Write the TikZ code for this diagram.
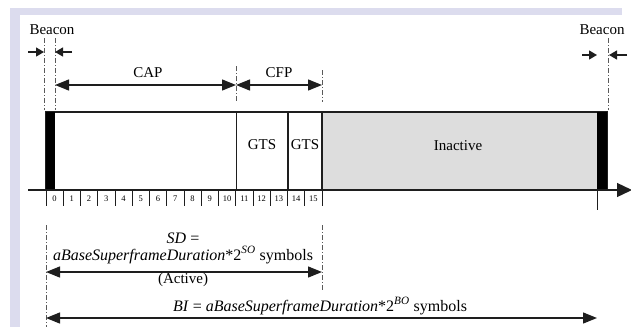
\documentclass[tikz,border=0pt]{standalone}
\usepackage{fontspec}
\setmainfont{Liberation Serif}
\usetikzlibrary{arrows.meta,positioning}
\definecolor{framelav}{HTML}{DCDCEE}
\definecolor{inactgray}{HTML}{DDDDDD}
\definecolor{inkline}{HTML}{1E1E1E}

\begin{document}
\begin{tikzpicture}[x=1pt,y=-1pt,
  every node/.style={font=\fontsize{15}{17}\selectfont, inner sep=0pt},
  guide/.style={draw=gray!70!black, line width=0.7pt, dash pattern=on 5pt off 2pt on 1pt off 2pt},
  span/.style={line width=1.3pt, draw=inkline, {Triangle[length=14pt,width=11pt]}-{Triangle[length=14pt,width=11pt]}},
  nudge/.style={line width=1.3pt, draw=inkline, -{Triangle[length=8pt,width=9pt]}},
  slot/.style={font=\fontsize{8.5}{9}\selectfont},
  formula/.style={font=\fontsize{16}{18}\selectfont},
]
  \useasboundingbox (0,0) rectangle (631,327);
  % slide frame
  \fill[framelav] (10,8) rectangle (622,15);
  \fill[framelav] (10,8) rectangle (20,327);

  % superframe
  \fill[inactgray] (322,112) rectangle (597,190);
  \draw[inkline, line width=1.2pt] (46,112) rectangle (607,190);
  \fill[black] (46,112) rectangle (55,190);
  \fill[black] (597,112) rectangle (607,190);
  \draw[inkline, line width=0.8pt] (236,112) -- (236,190);
  \draw[inkline, line width=1.3pt] (288,112) -- (288,190);
  \draw[inkline, line width=1.3pt] (322,112) -- (322,190);
  \node (gts1) at (262,145) {GTS};
  \node (gts2) at (305,145) {GTS};
  \node (inact) at (458,146) {Inactive};

  % time axis
  \coordinate (ax0) at (28,190);
  \coordinate (ax1) at (632,190);
  \draw[inkline, line width=1.3pt, -{Triangle[length=15pt,width=14pt]}] (ax0) -- (ax1);
  \foreach \i in {0,...,16}
    \draw[inkline, line width=0.8pt] (46+\i*17.25,190) -- ++(0,16);
  \foreach \i in {0,...,15}
    \node[slot] (n\i) at (46+\i*17.25+8.6,199) {\i};
  \draw[inkline, line width=0.8pt] (597,190) -- (597,210);

  % beacon marks
  \node (bcnL) at (52,30) {Beacon};
  \node (bcnR) at (602,30) {Beacon};
  \coordinate (gA) at (44,38);   \coordinate (gA') at (44,110);
  \coordinate (gB) at (55,38);   \coordinate (gB') at (55,110);
  \coordinate (gR) at (608,38);  \coordinate (gR') at (608,110);
  \draw[guide] (gA) -- (gA');
  \draw[guide] (gB) -- (gB');
  \draw[guide] (gR) -- (gR');
  \coordinate (pA0) at (28,52);  \coordinate (pA1) at (44,52);
  \coordinate (pB0) at (72,52);  \coordinate (pB1) at (55,52);
  \coordinate (pC0) at (582,55); \coordinate (pC1) at (597,55);
  \coordinate (pD0) at (627,55); \coordinate (pD1) at (609,55);
  \draw[nudge] (pA0) -- (pA1);
  \draw[nudge] (pB0) -- (pB1);
  \draw[nudge] (pC0) -- (pC1);
  \draw[nudge] (pD0) -- (pD1);

  % CAP / CFP
  \coordinate (capL) at (55,85);
  \coordinate (capR) at (236,85);
  \coordinate (cfpR) at (322,85);
  \draw[guide] (236,66) -- (236,102);
  \draw[guide] (322,70) -- (322,102);
  \node (cap) at (148,73) {CAP};
  \node (cfp) at (279,73) {CFP};
  \draw[span] (capL) -- (capR);
  \draw[span] (capR) -- (cfpR);

  % durations
  \coordinate (sdL) at (46,272);
  \coordinate (sdR) at (322,272);
  \coordinate (biL) at (46,318);
  \coordinate (biR) at (597,318);
  \draw[guide] (46,225) -- (46,327);
  \draw[guide] (322,225) -- (322,290);
  \node[formula] (sdeq) at (183,238) {\textit{SD} =};
  \node[formula] (sddur) at (183,255) {\textit{aBaseSuperframeDuration}*2\textsuperscript{\textit{SO}} symbols};
  \draw[span] (sdL) -- (sdR);
  \node (active) at (183,280) {(Active)};
  \node[formula] (bi) at (320,306) {\textit{BI} = \textit{aBaseSuperframeDuration}*2\textsuperscript{\textit{BO}} symbols};
  \draw[span] (biL) -- (biR);
\end{tikzpicture}
\end{document}
